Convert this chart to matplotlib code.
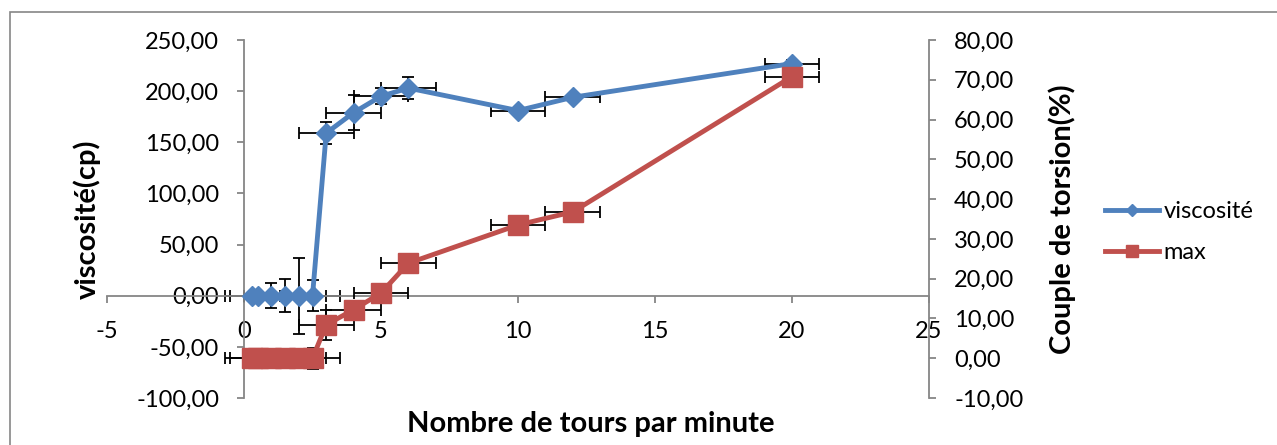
import numpy as np
import matplotlib.pyplot as plt
from matplotlib.ticker import FuncFormatter, MultipleLocator
from matplotlib.patches import Rectangle

plt.rcParams['font.family'] = ['Lato', 'DejaVu Sans']
plt.rcParams['axes.unicode_minus'] = False

# Vitesse de rotation (tours/min)
speed = [0.3, 0.5, 1, 1.5, 2, 2.5, 3, 4, 5, 6, 10, 12, 20]
# viscosite (cp), axe gauche
viscosity = [0, 0, 0, 0, 0, 0, 159, 179, 195, 203, 181, 194, 227]
visc_err = [0, 0, 12, 16, 37, 15, 11, 17, 8, 11, 3, 3, 3]
# couple de torsion (%), axe droit
torque = [0, 0, 0, 0, 0, 0, 8.4, 12.2, 16.4, 23.9, 33.5, 36.8, 70.8]
torque_err = [0, 0, 0, 0, 0, 2.6, 3.8, 1, 1, 1, 1, 1, 1]
speed_err = [1] * len(speed)

BLUE = "#4F81BD"
RED = "#C0504D"
GREY = "#868686"

fmt = FuncFormatter(lambda v, p: ("%.2f" % v).replace(".", ","))

fig = plt.figure(figsize=(12.77, 4.45), dpi=100)
ax = fig.add_axes([0.0838, 0.1056, 0.6437, 0.8045])
ax2 = ax.twinx()

# viscosite
ax.errorbar(speed, viscosity, xerr=speed_err, yerr=visc_err, fmt="none",
            ecolor="black", elinewidth=1.3, capsize=4.3, capthick=1.3, zorder=2)
l1, = ax.plot(speed, viscosity, color=BLUE, lw=3.5, marker="D", ms=10,
              label="viscosité", zorder=3)

# couple de torsion
ax2.errorbar(speed, torque, xerr=speed_err, yerr=torque_err, fmt="none",
             ecolor="black", elinewidth=1.3, capsize=4.3, capthick=1.3, zorder=2)
l2, = ax2.plot(speed, torque, color=RED, lw=3.5, marker="s", ms=14,
               label="max", zorder=3)

ax.set_xlim(-5, 25)
ax.set_ylim(-100, 250)
ax2.set_ylim(-10, 80)
ax.xaxis.set_major_locator(MultipleLocator(5))
ax.yaxis.set_major_locator(MultipleLocator(50))
ax2.yaxis.set_major_locator(MultipleLocator(10))
ax.yaxis.set_major_formatter(fmt)
ax2.yaxis.set_major_formatter(fmt)

ax.spines["left"].set_position(("data", 0))
ax.spines["bottom"].set_position(("data", 0))
for s in ["top", "right"]:
    ax.spines[s].set_visible(False)
for s in ["top", "left", "bottom"]:
    ax2.spines[s].set_visible(False)
for s in ["left", "bottom"]:
    ax.spines[s].set_color(GREY)
    ax.spines[s].set_linewidth(1.3)
ax2.spines["right"].set_color(GREY)
ax2.spines["right"].set_linewidth(1.3)

ax.tick_params(axis="y", direction="out", length=5, width=1.3, color=GREY,
               pad=13, labelsize=17)
ax.tick_params(axis="x", direction="out", length=5, width=1.3, color=GREY,
               pad=13, labelsize=17)
ax2.tick_params(axis="y", direction="out", length=5, width=1.3, color=GREY,
                pad=13, labelsize=17)

ax.set_xlabel("Nombre de tours par minute", fontsize=21, fontweight="bold")
ax.xaxis.set_label_coords(0.589, -0.037)
ax.set_ylabel("viscosité(cp)", fontsize=21, fontweight="bold")
ax.yaxis.set_label_coords(-0.008, 0.5)
ax2.set_ylabel("Couple de torsion(%)", fontsize=21, fontweight="bold")
ax2.yaxis.set_label_coords(1.145, 0.5)

fig.legend(handles=[l1, l2], loc="center left", bbox_to_anchor=(0.865, 0.479),
           frameon=False, fontsize=17, handlelength=2.3, handletextpad=0.2,
           labelspacing=0.85, markerscale=0.65, borderpad=0, borderaxespad=0)

fig.patches.append(Rectangle((10 / 1277, -0.1), 1.2, (445 - 12.5) / 445 + 0.1,
                             transform=fig.transFigure, fill=False,
                             edgecolor=GREY, lw=1.2))

fig.savefig("out.png", dpi=100)
